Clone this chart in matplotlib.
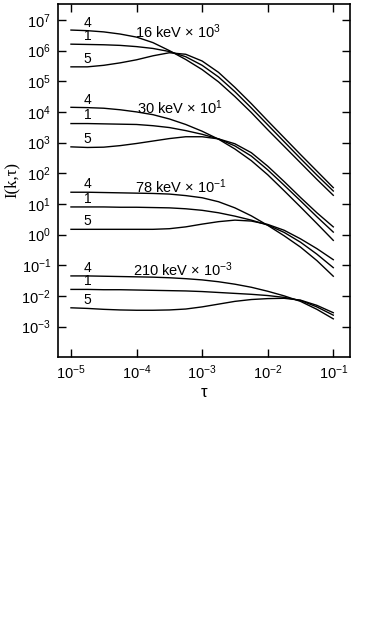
import numpy as np
import matplotlib
matplotlib.use("Agg")
import matplotlib.pyplot as plt
from matplotlib.ticker import LogLocator, FuncFormatter, NullLocator

plt.rcParams['font.family'] = ['Liberation Sans', 'DejaVu Sans']
plt.rcParams['mathtext.fontset'] = 'custom'
plt.rcParams['mathtext.rm'] = 'Liberation Sans'
plt.rcParams['mathtext.it'] = 'Liberation Sans:italic'
plt.rcParams['mathtext.bf'] = 'Liberation Sans:bold'

# tau grid (log10 tau)
log_tau = [-5.0, -4.75, -4.5, -4.25, -4.0, -3.75, -3.5, -3.25, -3.0,
           -2.75, -2.5, -2.25, -2.0, -1.75, -1.5, -1.25, -1.0]

# log10 I(k,tau) for each group (already scaled) and curve label
g16_c4 = [6.67, 6.65, 6.61, 6.54, 6.44, 6.26, 6.00, 5.71, 5.38, 4.98, 4.50, 3.98, 3.42, 2.88, 2.34, 1.80, 1.28]
g16_c1 = [6.21, 6.20, 6.19, 6.17, 6.13, 6.07, 5.97, 5.80, 5.52, 5.14, 4.66, 4.13, 3.58, 3.03, 2.48, 1.94, 1.42]
g16_c5 = [5.47, 5.47, 5.52, 5.60, 5.70, 5.83, 5.93, 5.88, 5.66, 5.29, 4.80, 4.27, 3.71, 3.16, 2.61, 2.07, 1.53]

g30_c4 = [4.15, 4.14, 4.12, 4.07, 4.00, 3.91, 3.77, 3.59, 3.37, 3.11, 2.79, 2.41, 1.95, 1.43, 0.90, 0.36, -0.19]
g30_c1 = [3.62, 3.62, 3.61, 3.60, 3.59, 3.55, 3.49, 3.39, 3.27, 3.12, 2.89, 2.56, 2.11, 1.61, 1.10, 0.58, 0.08]
g30_c5 = [2.86, 2.84, 2.85, 2.90, 2.97, 3.05, 3.13, 3.19, 3.19, 3.12, 2.96, 2.67, 2.23, 1.73, 1.21, 0.71, 0.25]

g78_c4 = [1.38, 1.38, 1.37, 1.36, 1.35, 1.34, 1.32, 1.27, 1.20, 1.07, 0.87, 0.61, 0.30, -0.04, -0.41, -0.85, -1.36]
g78_c1 = [0.90, 0.90, 0.90, 0.89, 0.89, 0.88, 0.87, 0.84, 0.79, 0.71, 0.60, 0.47, 0.31, 0.07, -0.25, -0.64, -1.08]
g78_c5 = [0.17, 0.17, 0.17, 0.17, 0.17, 0.17, 0.19, 0.25, 0.34, 0.42, 0.47, 0.44, 0.33, 0.14, -0.14, -0.46, -0.82]

g210_c4 = [-1.35, -1.35, -1.36, -1.37, -1.38, -1.39, -1.41, -1.44, -1.48, -1.54, -1.62, -1.72, -1.85, -2.00, -2.18, -2.44, -2.75]
g210_c1 = [-1.79, -1.79, -1.80, -1.80, -1.81, -1.82, -1.83, -1.84, -1.86, -1.89, -1.92, -1.95, -1.99, -2.05, -2.15, -2.36, -2.63]
g210_c5 = [-2.39, -2.41, -2.44, -2.46, -2.47, -2.47, -2.46, -2.43, -2.36, -2.27, -2.18, -2.12, -2.09, -2.08, -2.14, -2.31, -2.55]

group_titles = [r'16 keV $\times$ 10$^{3}$', r'30 keV $\times$ 10$^{1}$',
                r'78 keV $\times$ 10$^{-1}$', r'210 keV $\times$ 10$^{-3}$']
# title anchor (log10 tau, log10 I)
title_pos = [(-4.02, 6.62), (-3.99, 4.15), (-4.02, 1.56), (-4.06, -1.15)]
curve_labels = ['4', '1', '5']

groups = [(g16_c4, g16_c1, g16_c5), (g30_c4, g30_c1, g30_c5),
          (g78_c4, g78_c1, g78_c5), (g210_c4, g210_c1, g210_c5)]

fig = plt.figure(figsize=(3.74, 6.23), dpi=100)
ax = fig.add_axes([58/374, 1-356.7/623, (350-58)/374, (356.7-4)/623])

tau = 10.0 ** np.array(log_tau)
for gi, curves in enumerate(groups):
    for lab, c in zip(curve_labels, curves):
        vals = 10.0 ** np.array(c)
        ax.plot(tau, vals, color='black', lw=1.0)
        ax.annotate(lab, xy=(10**-4.75, vals[1]), xytext=(0, 0.8),
                    textcoords='offset points', ha='center', va='bottom',
                    fontsize=10, color='black')
    tx, ty = title_pos[gi]
    ax.text(10**tx, 10**ty, group_titles[gi], ha='left', va='center',
            fontsize=10.5, color='black')

ax.set_xscale('log')
ax.set_yscale('log')
ax.set_xlim(10**-5.198, 10**-0.745)
ax.set_ylim(10**-3.985, 10**7.52)

ax.xaxis.set_major_locator(LogLocator(base=10, numticks=20))
ax.yaxis.set_major_locator(LogLocator(base=10, numticks=20))
ax.xaxis.set_minor_locator(NullLocator())
ax.yaxis.set_minor_locator(NullLocator())
fmt = FuncFormatter(lambda v, p: r'10$^{%d}$' % int(round(np.log10(v))))
ax.xaxis.set_major_formatter(fmt)
ax.yaxis.set_major_formatter(fmt)

ax.tick_params(which='major', direction='in', length=6, width=1.0,
               top=True, right=True, labelsize=10.5, pad=5, colors='black')
for s in ax.spines.values():
    s.set_linewidth(1.2)

ax.set_xlabel('τ', fontsize=12, labelpad=2)
ax.set_ylabel('I(k,τ)', fontsize=12, labelpad=1, family=['Liberation Serif', 'DejaVu Serif'])

fig.savefig('out.png', dpi=100)
